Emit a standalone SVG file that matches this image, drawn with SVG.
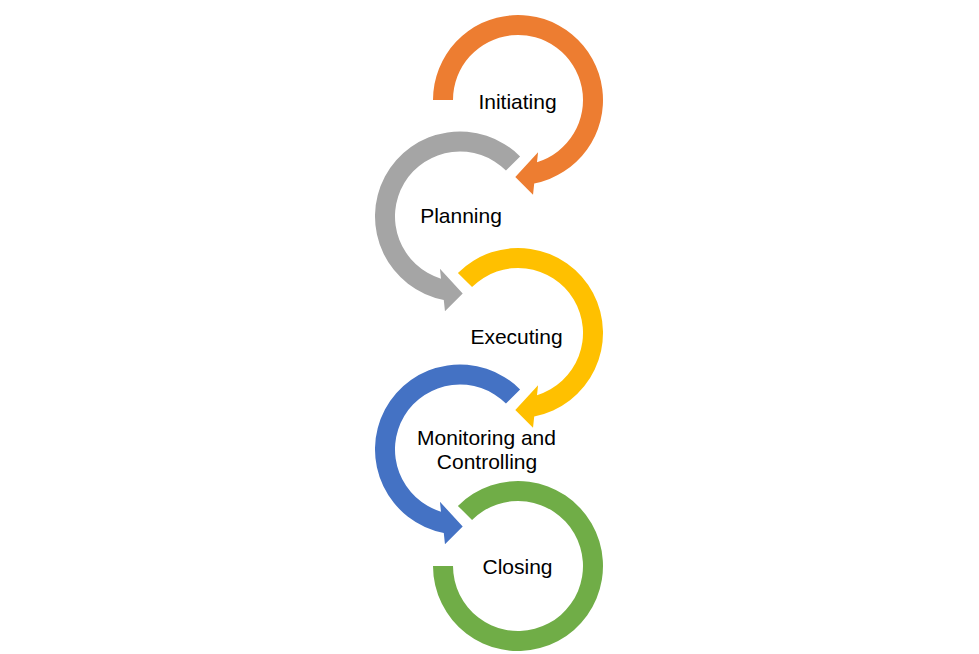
<svg xmlns="http://www.w3.org/2000/svg" width="979" height="654" viewBox="0 0 979 654">
<style>
.lbl{font-family:"Liberation Sans",Arial,sans-serif;font-size:21px;fill:#000;text-anchor:middle}
.orange{fill:#ED7D31}.gray{fill:#A5A5A5}.yellow{fill:#FFC000}.blue{fill:#4472C4}.green{fill:#70AD47}
</style>
<rect width="979" height="654" fill="#fff"/>
<g id="connectors"/>
<g id="initiating">
<path class="orange" d="M433 100 A85 85 0 1 1 534.22 183.44 L533.02 194.82 L515.31 176.95 L538.07 152.28 L537 162.16 A65 65 0 1 0 453 100 Z"/>
<text class="lbl" x="517.5" y="109">Initiating</text>
</g>
<g id="planning">
<path class="gray" d="M520.10 156.40 A85 85 0 1 0 443.78 299.94 L444.98 311.32 L462.69 293.45 L439.93 268.78 L441 278.66 A65 65 0 1 1 505.96 170.54 Z"/>
<text class="lbl" x="461" y="223">Planning</text>
</g>
<g id="executing">
<path class="yellow" d="M457.90 272.90 A85 85 0 1 1 534.22 416.44 L533.02 427.82 L515.31 409.95 L538.07 385.28 L537 395.16 A65 65 0 1 0 472.04 287.04 Z"/>
<text class="lbl" x="516.5" y="344">Executing</text>
</g>
<g id="monitoring">
<path class="blue" d="M520.10 389.40 A85 85 0 1 0 443.78 532.94 L444.98 544.32 L462.69 526.45 L439.93 501.78 L441 511.66 A65 65 0 1 1 505.96 403.54 Z"/>
<text class="lbl" x="486.5" y="445">Monitoring and</text>
<text class="lbl" x="487" y="469">Controlling</text>
</g>
<g id="closing">
<path class="green" d="M457.90 505.90 A85 85 0 1 1 433 566 L453 566 A65 65 0 1 0 472.04 520.04 Z"/>
<text class="lbl" x="517.5" y="574">Closing</text>
</g>
</svg>
